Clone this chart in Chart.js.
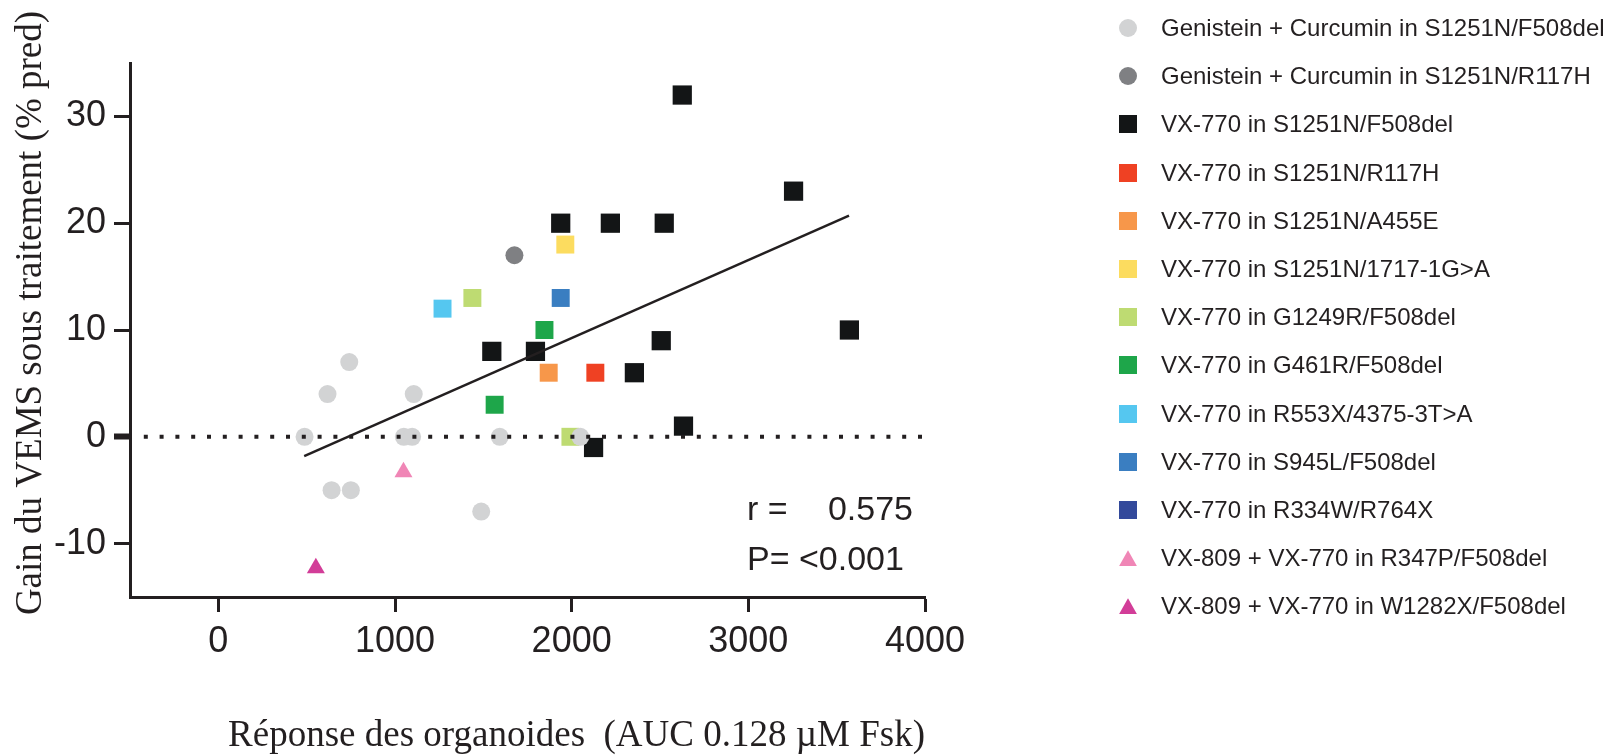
<!DOCTYPE html>
<html lang="fr">
<head>
<meta charset="utf-8">
<title>Gain du VEMS vs réponse des organoides</title>
<script src="https://cdn.jsdelivr.net/npm/chart.js@4.4.1/dist/chart.umd.min.js"></script>
<style>
  html, body { margin: 0; padding: 0; background: #fff; overflow: hidden; }
  #wrap { position: relative; width: 1612px; height: 755px; }
  #chart { position: absolute; left: 0; top: 0; }
  #legend {
    position: absolute; left: 1119px; top: 4px; margin: 0; padding: 0; list-style: none;
    font-family: 'Liberation Sans', Arial, sans-serif; font-size: 24px; color: #231f20;
  }
  #legend li { height: 48.2px; display: flex; align-items: center; white-space: nowrap; }
  #legend .mk { flex: none; width: 18px; height: 18px; margin-right: 24px; }
  #legend .mk.circle { border-radius: 50%; }
  #legend .mk.triangle { height: 16px; clip-path: polygon(50% 0, 100% 100%, 0 100%); }
</style>
</head>
<body>
<div id="wrap">
  <canvas id="chart" width="1612" height="755"></canvas>
  <ul id="legend"></ul>
</div>
<script>
// x = AUC 0.128 µM Fsk, y = gain du VEMS (% pred)
const gcF508delX = [488, 618, 641, 741, 750, 1050, 1097, 1106, 1488, 1593, 2049];
const gcF508delY = [0, 4, -5, 7, -5, 0, 0, 4, -7, 0, 0];
const gcR117hX = [1676];
const gcR117hY = [17];
const vxF508delX = [1548, 1795, 1938, 2124, 2219, 2355, 2507, 2524, 2626, 2633, 3256, 3572];
const vxF508delY = [8, 8, 20, -1, 20, 6, 9, 20, 32, 1, 23, 10];
const vxR117hX = [2134];
const vxR117hY = [6];
const vxA455eX = [1870];
const vxA455eY = [6];
const vx1717X = [1964];
const vx1717Y = [18];
const vxG1249rX = [1438, 1993];
const vxG1249rY = [13, 0];
const vxG461rX = [1564, 1846];
const vxG461rY = [3, 10];
const vxR553xX = [1269];
const vxR553xY = [12];
const vxS945lX = [1938];
const vxS945lY = [13];
const vxR334wX = [];
const vxR334wY = [];
const comboR347pX = [1048];
const comboR347pY = [-3.3];
const comboW1282xX = [552];
const comboW1282xY = [-12.3];

// regression line and the dotted zero line
const fitX = [486, 3570];
const fitY = [-1.8, 20.7];
const zeroX = [-500, 4000];
const zeroY = [0, 0];

const xTicks = [0, 1000, 2000, 3000, 4000];
const yTicks = [-10, 0, 10, 20, 30];

const xTitle = 'Réponse des organoides  (AUC 0.128 µM Fsk)';
const yTitle = 'Gain du VEMS sous traitement (% pred)';
const statR = ['r =', '0.575'];
const statP = 'P= <0.001';

const ink = '#231f20';
const sans = "'Liberation Sans', Arial, sans-serif";
const serif = "'Liberation Serif', 'Times New Roman', serif";

const series = [
  { label: 'Genistein + Curcumin in S1251N/F508del', xs: gcF508delX, ys: gcF508delY },
  { label: 'Genistein + Curcumin in S1251N/R117H', xs: gcR117hX, ys: gcR117hY },
  { label: 'VX-770 in S1251N/F508del', xs: vxF508delX, ys: vxF508delY },
  { label: 'VX-770 in S1251N/R117H', xs: vxR117hX, ys: vxR117hY },
  { label: 'VX-770 in S1251N/A455E', xs: vxA455eX, ys: vxA455eY },
  { label: 'VX-770 in S1251N/1717-1G>A', xs: vx1717X, ys: vx1717Y },
  { label: 'VX-770 in G1249R/F508del', xs: vxG1249rX, ys: vxG1249rY },
  { label: 'VX-770 in G461R/F508del', xs: vxG461rX, ys: vxG461rY },
  { label: 'VX-770 in R553X/4375-3T>A', xs: vxR553xX, ys: vxR553xY },
  { label: 'VX-770 in S945L/F508del', xs: vxS945lX, ys: vxS945lY },
  { label: 'VX-770 in R334W/R764X', xs: vxR334wX, ys: vxR334wY },
  { label: 'VX-809 + VX-770 in R347P/F508del', xs: comboR347pX, ys: comboR347pY },
  { label: 'VX-809 + VX-770 in W1282X/F508del', xs: comboW1282xX, ys: comboW1282xY }
];

// marker style per series, same order as above
const seriesStyles = [
  { color: '#d2d3d4', shape: 'circle', r: 9 },
  { color: '#7f8083', shape: 'circle', r: 9 },
  { color: '#131516', shape: 'rect', r: 13.6 },
  { color: '#ef4123', shape: 'rect', r: 12.7 },
  { color: '#f7974a', shape: 'rect', r: 12.7 },
  { color: '#fcdc5f', shape: 'rect', r: 12.7 },
  { color: '#bedb72', shape: 'rect', r: 12.7 },
  { color: '#1ea64a', shape: 'rect', r: 12.7 },
  { color: '#55c7f0', shape: 'rect', r: 12.7 },
  { color: '#3a7ec1', shape: 'rect', r: 12.7 },
  { color: '#33499b', shape: 'rect', r: 12.7 },
  { color: '#f086b6', shape: 'triangle', r: 10.4 },
  { color: '#d23d98', shape: 'triangle', r: 10.4 }
];

function toPoints(xs, ys) {
  return xs.map((x, i) => ({ x: x, y: ys[i] }));
}

// lines first so they are painted over the markers
const datasets = [
  {
    label: 'fit', data: toPoints(fitX, fitY), showLine: true,
    borderColor: ink, borderWidth: 2.5, pointRadius: 0
  },
  {
    label: 'zero', data: toPoints(zeroX, zeroY), showLine: true,
    borderColor: ink, borderWidth: 4, borderDash: [4, 11.8], borderDashOffset: 2,
    borderCapStyle: 'butt', pointRadius: 0
  }
].concat(series.map((s, i) => ({
  label: s.label,
  data: toPoints(s.xs, s.ys),
  pointStyle: seriesStyles[i].shape,
  pointRadius: seriesStyles[i].r,
  backgroundColor: seriesStyles[i].color,
  borderColor: seriesStyles[i].color,
  pointBorderWidth: 0
})));

// y title and r / P values
const textLayer = {
  id: 'textLayer',
  afterDraw(chart) {
    const { ctx, chartArea } = chart;
    ctx.save();
    ctx.fillStyle = ink;
    ctx.textBaseline = 'middle';

    ctx.font = '37px ' + serif;
    ctx.textAlign = 'center';
    ctx.translate(chartArea.left - 99, (chartArea.top + chartArea.bottom) / 2 - 17);
    ctx.rotate(-Math.PI / 2);
    ctx.fillText(yTitle, 0, 0);
    ctx.setTransform(1, 0, 0, 1, 0, 0);

    ctx.font = '34px ' + sans;
    ctx.textAlign = 'left';
    ctx.fillText(statR[0], chartArea.left + 617, 511);
    ctx.fillText(statP, chartArea.left + 617, 561);
    ctx.textAlign = 'right';
    ctx.fillText(statR[1], chartArea.left + 783, 511);
    ctx.restore();
  }
};

const chart = new Chart(document.getElementById('chart'), {
  type: 'scatter',
  data: { datasets: datasets },
  options: {
    responsive: false,
    animation: false,
    events: [],
    layout: { padding: { top: 63, right: 687, bottom: 0, left: 0 } },
    plugins: {
      legend: { display: false },
      tooltip: { enabled: false }
    },
    scales: {
      x: {
        type: 'linear',
        min: -500,
        max: 4000,
        afterBuildTicks: scale => { scale.ticks = xTicks.map(v => ({ value: v })); },
        afterFit: scale => { scale.height = 158; },
        grid: { drawOnChartArea: false, tickLength: 15, tickWidth: 3, tickColor: ink },
        border: { display: true, width: 3, color: ink },
        ticks: {
          color: ink, padding: 8, maxRotation: 0, autoSkip: false,
          font: { family: sans, size: 36 },
          callback: v => String(v)
        },
        title: {
          display: true, text: xTitle, align: 'end', color: ink, padding: 0,
          font: { family: serif, size: 37, lineHeight: 1 }
        }
      },
      y: {
        type: 'linear',
        min: -15,
        max: 35,
        afterBuildTicks: scale => { scale.ticks = yTicks.map(v => ({ value: v })); },
        afterFit: scale => { scale.width = 130; },
        grid: {
          drawOnChartArea: false, tickLength: 16, tickColor: ink,
          tickWidth: c => (c.tick && c.tick.value === 0 ? 6 : 3)
        },
        border: { display: true, width: 3, color: ink },
        ticks: {
          color: ink, padding: 8,
          font: { family: sans, size: 36 },
          callback: v => String(v)
        }
      }
    }
  },
  plugins: [textLayer]
});

// html legend built from the chart's own legend items
const legendEl = document.getElementById('legend');
const legendItems = Chart.defaults.plugins.legend.labels.generateLabels(chart)
  .filter(item => item.datasetIndex > 1);
legendItems.forEach(item => {
  const style = seriesStyles[item.datasetIndex - 2];
  const li = document.createElement('li');
  const mk = document.createElement('span');
  mk.className = 'mk ' + style.shape;
  mk.style.background = item.fillStyle;
  const txt = document.createElement('span');
  txt.textContent = item.text;
  li.appendChild(mk);
  li.appendChild(txt);
  legendEl.appendChild(li);
});
</script>
</body>
</html>
